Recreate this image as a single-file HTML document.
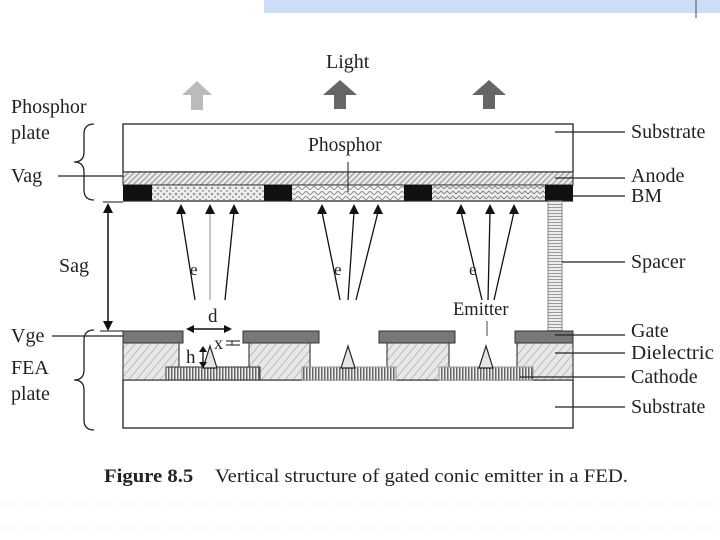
<!DOCTYPE html>
<html><head><style>body{margin:0;background:#fff}svg{display:block}text{font-family:"Liberation Serif",serif;fill:#222}</style></head><body>
<svg width="720" height="540" viewBox="0 0 720 540" xmlns="http://www.w3.org/2000/svg">
<defs>
<pattern id="diag" width="4" height="4" patternUnits="userSpaceOnUse" patternTransform="rotate(45)"><rect width="4" height="4" fill="#eee"/><rect width="1.6" height="4" fill="#aaa"/></pattern>
<pattern id="diel" width="6" height="6" patternUnits="userSpaceOnUse" patternTransform="rotate(40)"><rect width="6" height="6" fill="#e8e8e8"/><rect width="1" height="6" fill="#bbb"/></pattern>
<pattern id="dots" width="6" height="6" patternUnits="userSpaceOnUse"><rect width="6" height="6" fill="#eee"/><circle cx="2" cy="2" r="1.3" fill="#999"/><circle cx="5" cy="5" r="1.1" fill="#aaa"/></pattern>
<pattern id="wave" width="8" height="5" patternUnits="userSpaceOnUse"><rect width="8" height="5" fill="#f2f2f2"/><path d="M0 3 Q2 0 4 3 T8 3" stroke="#888" fill="none" stroke-width="0.9"/></pattern>
<pattern id="zig" width="6" height="5" patternUnits="userSpaceOnUse"><rect width="6" height="5" fill="#eee"/><path d="M0 4 L3 1 L6 4" stroke="#888" fill="none" stroke-width="1"/></pattern>
<pattern id="vert" width="3" height="4" patternUnits="userSpaceOnUse"><rect width="3" height="4" fill="#eee"/><rect width="1.5" height="4" fill="#666"/></pattern>
<pattern id="horiz" width="4" height="3" patternUnits="userSpaceOnUse"><rect width="4" height="3" fill="#eee"/><rect width="4" height="1" fill="#999"/></pattern>
</defs>
<rect x="264" y="0" width="456" height="13" fill="#cfdcf7"/>
<line x1="696" y1="0" x2="696" y2="18" stroke="#667" stroke-width="1.2"/>
<g stroke="#e4e4e4" stroke-dasharray="1,2"><line x1="0" y1="504" x2="720" y2="504"/><line x1="0" y1="528" x2="720" y2="528"/></g>
<polygon points="182,95 197,81 212,95 203,95 203,110 191,110 191,95" fill="#bbb"/>
<polygon points="323,95 340,80 357,95 346,95 346,109 334,109 334,95" fill="#666"/>
<polygon points="472,95 489,80 506,95 495,95 495,109 483,109 483,95" fill="#666"/>
<text x="326" y="68" font-size="20">Light</text>
<rect x="123" y="124" width="450" height="48" fill="#fff" stroke="#222" stroke-width="1.3"/>
<text x="308" y="151" font-size="19.5">Phosphor</text>
<rect x="123" y="172" width="450" height="13" fill="url(#diag)" stroke="#222" stroke-width="1"/>
<rect x="123" y="185" width="29" height="16" fill="#111"/>
<rect x="152" y="186" width="112" height="14" fill="url(#dots)"/>
<rect x="264" y="185" width="28" height="16" fill="#111"/>
<rect x="292" y="186" width="112" height="14" fill="url(#wave)"/>
<rect x="404" y="185" width="28" height="16" fill="#111"/>
<rect x="432" y="186" width="113" height="14" fill="url(#zig)"/>
<rect x="545" y="185" width="28" height="16" fill="#111"/>
<line x1="123" y1="201" x2="573" y2="201" stroke="#222" stroke-width="1.3"/>
<line x1="348" y1="162" x2="348" y2="192" stroke="#222"/>
<rect x="548" y="201" width="14" height="130" fill="url(#horiz)" stroke="#888"/>
<g stroke="#111" stroke-width="1.3">
<line x1="195" y1="300" x2="181" y2="212"/><line x1="225" y1="300" x2="234" y2="212"/>
<line x1="340" y1="300" x2="322" y2="212"/><line x1="348" y1="300" x2="354" y2="212"/><line x1="356" y1="300" x2="378" y2="212"/>
<line x1="482" y1="300" x2="461" y2="212"/><line x1="488" y1="300" x2="490" y2="212"/><line x1="494" y1="300" x2="514" y2="212"/>
</g>
<line x1="210" y1="300" x2="210" y2="212" stroke="#aaa" stroke-width="1.3"/>
<g fill="#111">
<polygon points="181,204 176,214 186,214"/><polygon points="234,204 229,214 239,214"/>
<polygon points="322,204 317,214 327,214"/><polygon points="354,204 349,214 359,214"/><polygon points="378,204 373,214 383,214"/>
<polygon points="461,204 456,214 466,214"/><polygon points="490,204 485,214 495,214"/><polygon points="514,204 509,214 519,214"/>
<polygon points="108,203 103,213 113,213"/><polygon points="108,331 103,321 113,321"/>
</g>
<polygon points="210,204 205,214 215,214" fill="#111"/>
<line x1="108" y1="210" x2="108" y2="324" stroke="#111" stroke-width="1.5"/>
<line x1="103" y1="202" x2="123" y2="202" stroke="#111"/>
<line x1="100" y1="331" x2="123" y2="331" stroke="#111"/>
<text x="190" y="275" font-size="17">e</text><text x="334" y="275" font-size="17">e</text><text x="469" y="275" font-size="17">e</text>
<text x="453" y="315" font-size="18.5">Emitter</text>
<line x1="487" y1="321" x2="487" y2="336" stroke="#444"/>
<rect x="123" y="380" width="450" height="48" fill="#fff" stroke="#222" stroke-width="1.3"/>
<g stroke="#222" stroke-width="1">
<rect x="123" y="343" width="56" height="37" fill="url(#diel)"/>
<rect x="249" y="343" width="61" height="37" fill="url(#diel)"/>
<rect x="387" y="343" width="62" height="37" fill="url(#diel)"/>
<rect x="517" y="343" width="56" height="37" fill="url(#diel)"/>
</g>
<rect x="166" y="367" width="94" height="13" fill="url(#vert)" stroke="#333"/>
<rect x="302" y="367" width="94" height="13" fill="url(#vert)" stroke="#999"/>
<rect x="439" y="367" width="94" height="13" fill="url(#vert)" stroke="#999"/>
<g fill="#777" stroke="#333">
<rect x="123" y="331" width="60" height="12"/><rect x="243" y="331" width="76" height="12"/>
<rect x="379" y="331" width="76" height="12"/><rect x="515" y="331" width="58" height="12"/>
</g>
<g fill="#e5e5e5" stroke="#222" stroke-width="1.2">
<polygon points="210,346 203,368 217,368"/><polygon points="348,346 341,368 355,368"/><polygon points="486,346 479,368 493,368"/>
</g>
<line x1="190" y1="329" x2="228" y2="329" stroke="#111" stroke-width="1.5"/>
<polygon points="186,329 194,325 194,333" fill="#111"/><polygon points="232,329 224,325 224,333" fill="#111"/>
<text x="208" y="322" font-size="19">d</text>
<text x="214" y="349" font-size="18">x</text>
<g stroke="#111"><line x1="226" y1="341" x2="240" y2="341"/><line x1="226" y1="345" x2="240" y2="345"/><line x1="232" y1="341" x2="232" y2="345"/></g>
<text x="186" y="363" font-size="19">h</text>
<line x1="203" y1="350" x2="203" y2="364" stroke="#111" stroke-width="1.3"/>
<polygon points="203,346 199,352 207,352" fill="#111"/><polygon points="203,368 199,362 207,362" fill="#111"/>
<g stroke="#222" stroke-width="1.2">
<line x1="555" y1="132" x2="625" y2="132"/><line x1="555" y1="178" x2="625" y2="178"/><line x1="573" y1="196" x2="625" y2="196"/>
<line x1="562" y1="262" x2="625" y2="262"/><line x1="555" y1="335" x2="625" y2="335"/><line x1="555" y1="353" x2="625" y2="353"/>
<line x1="520" y1="377" x2="625" y2="377"/><line x1="555" y1="407" x2="625" y2="407"/>
</g>
<g font-size="20">
<text x="631" y="138">Substrate</text><text x="631" y="182">Anode</text><text x="631" y="202">BM</text>
<text x="631" y="268">Spacer</text><text x="631" y="337">Gate</text><text x="631" y="359" textLength="83" lengthAdjust="spacingAndGlyphs">Dielectric</text>
<text x="631" y="383">Cathode</text><text x="631" y="413">Substrate</text>
<text x="11" y="113">Phosphor</text><text x="11" y="139">plate</text>
<text x="11" y="182">Vag</text><text x="59" y="272">Sag</text>
<text x="11" y="342">Vge</text><text x="11" y="374">FEA</text><text x="11" y="400">plate</text>
</g>
<line x1="58" y1="176" x2="123" y2="176" stroke="#222" stroke-width="1.2"/>
<line x1="52" y1="336" x2="123" y2="336" stroke="#222" stroke-width="1.2"/>
<path d="M94,124 Q84,124 84,134 L84,152 Q84,162 74,162 Q84,162 84,172 L84,190 Q84,200 94,200" fill="none" stroke="#222" stroke-width="1.3"/>
<path d="M94,330 Q84,330 84,340 L84,370 Q84,380 74,380 Q84,380 84,390 L84,420 Q84,430 94,430" fill="none" stroke="#222" stroke-width="1.3"/>
<text x="104" y="482" font-size="19" textLength="524" lengthAdjust="spacingAndGlyphs"><tspan font-weight="bold">Figure 8.5</tspan><tspan dx="20">Vertical structure of gated conic emitter in a FED.</tspan></text>
</svg>
</body></html>
